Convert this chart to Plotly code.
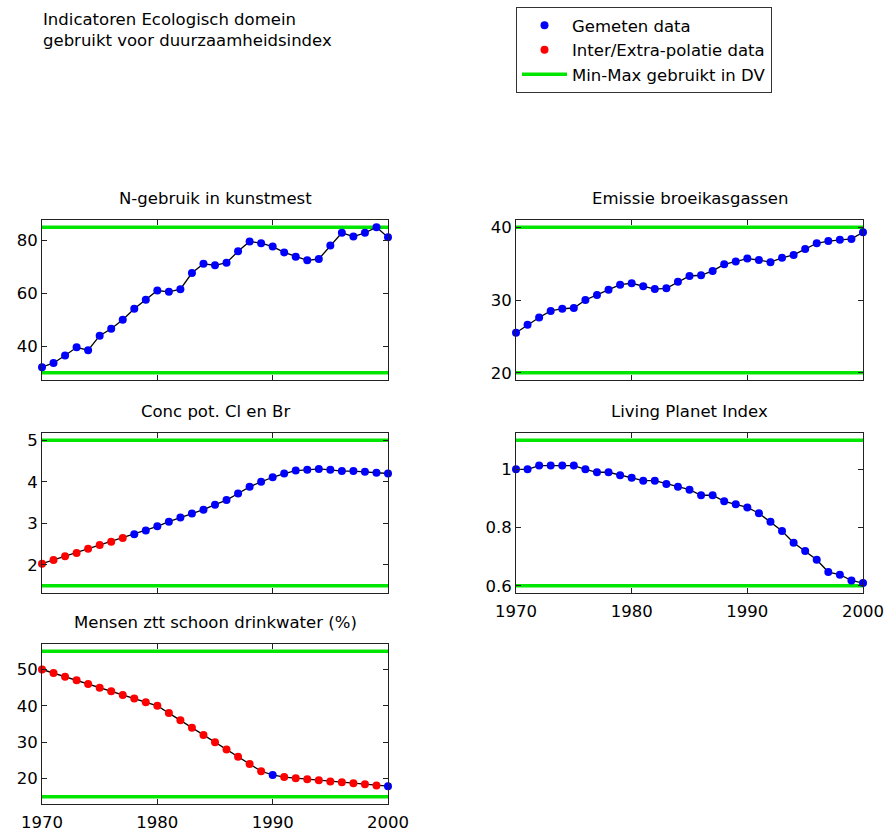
import plotly.graph_objects as go

# Jaren 1970-2000
years = list(range(1970, 2001))

# N-gebruik in kunstmest
n_gebruik = [32.1, 33.7, 36.5, 39.6, 38.5, 44.0, 46.6, 50.0, 54.2, 57.6,
             61.1, 60.6, 61.6, 67.7, 71.2, 70.6, 71.6, 75.9, 79.6, 79.0,
             77.7, 75.5, 73.9, 72.5, 73.0, 78.1, 82.9, 81.5, 82.9, 85.0, 81.2]
n_gebruik_measured = years
n_gebruik_minmax = [30, 85]

# Emissie broeikasgassen
emissie = [25.5, 26.6, 27.6, 28.5, 28.8, 28.9, 30.0, 30.7, 31.4, 32.1,
           32.3, 31.9, 31.5, 31.6, 32.5, 33.3, 33.4, 34.0, 34.9, 35.3,
           35.7, 35.5, 35.2, 35.8, 36.2, 37.0, 37.8, 38.1, 38.3, 38.4, 39.3]
emissie_measured = years
emissie_minmax = [20, 40]

# Conc pot. Cl en Br
conc = [2.03, 2.12, 2.21, 2.29, 2.39, 2.48, 2.56, 2.65, 2.74, 2.83,
        2.93, 3.04, 3.14, 3.24, 3.33, 3.45, 3.56, 3.72, 3.88, 4.00,
        4.11, 4.20, 4.27, 4.29, 4.31, 4.29, 4.26, 4.26, 4.24, 4.22, 4.20]
conc_measured = list(range(1978, 2001))
conc_minmax = [1.5, 5]

# Living Planet Index
lpi = [1.000, 1.000, 1.013, 1.013, 1.013, 1.013, 1.000, 0.990, 0.990, 0.980,
       0.971, 0.961, 0.961, 0.950, 0.940, 0.930, 0.911, 0.911, 0.890, 0.880,
       0.869, 0.849, 0.820, 0.788, 0.748, 0.719, 0.689, 0.647, 0.638, 0.618, 0.609]
lpi_measured = years
lpi_minmax = [0.6, 1.1]

# Mensen zonder toegang tot schoon drinkwater (%)
drinkwater = [50.0, 49.0, 48.0, 47.0, 46.0, 45.0, 44.0, 43.0, 42.0, 41.0,
              40.0, 38.0, 36.0, 34.0, 32.0, 30.0, 28.0, 26.0, 24.0, 22.0,
              21.0, 20.4, 20.1, 19.8, 19.5, 19.2, 19.0, 18.7, 18.4, 18.1, 17.9]
drinkwater_measured = [1990, 2000]
drinkwater_minmax = [15, 55]

xticks = [1970, 1980, 1990, 2000]
xticklabels = ["1970", "1980", "1990", "2000"]

panels = [
    dict(title="N-gebruik in kunstmest", y=n_gebruik, measured=n_gebruik_measured,
         minmax=n_gebruik_minmax, ticks=[40, 60, 80], labels=["40", "60", "80"]),
    dict(title="Emissie broeikasgassen", y=emissie, measured=emissie_measured,
         minmax=emissie_minmax, ticks=[20, 30, 40], labels=["20", "30", "40"]),
    dict(title="Conc pot. Cl en Br", y=conc, measured=conc_measured,
         minmax=conc_minmax, ticks=[2, 3, 4, 5], labels=["2", "3", "4", "5"]),
    dict(title="Living Planet Index", y=lpi, measured=lpi_measured,
         minmax=lpi_minmax, ticks=[0.6, 0.8, 1.0], labels=["0.6", "0.8", "1"]),
    dict(title="Mensen ztt schoon drinkwater (%)", y=drinkwater, measured=drinkwater_measured,
         minmax=drinkwater_minmax, ticks=[20, 30, 40, 50], labels=["20", "30", "40", "50"]),
]

W, H = 886, 834
FONT = "DejaVu Sans, Liberation Sans, Arial, sans-serif"
FS = 16.5

# panel frames in pixels: (left, right), (top, bottom)
left_col = (42, 388)
right_col = (516, 863)
rows = [(220, 380), (433, 593), (644, 804)]
frames = [
    (left_col, rows[0]), (right_col, rows[0]),
    (left_col, rows[1]), (right_col, rows[1]),
    (left_col, rows[2]),
]
show_xlabels = [False, False, False, True, True]

BLUE = "#0000ff"
RED = "#ff0000"
GREEN = "#00e600"
AXIS = "#222222"

fig = go.Figure()
layout = dict(
    template="none",
    width=W, height=H, margin=dict(l=0, r=0, t=0, b=0, pad=0),
    paper_bgcolor="white", plot_bgcolor="white",
    font=dict(family=FONT, size=FS, color="black"),
    showlegend=True, hovermode=False,
)
annotations = []

legend_done = {"measured": False, "interp": False, "minmax": False}

for i, (p, ((x0, x1), (y0, y1)), showx) in enumerate(zip(panels, frames, show_xlabels)):
    k = "" if i == 0 else str(i + 1)
    xa, ya = "x" + k, "y" + k
    lo, hi = p["minmax"]
    pad = 0.05 * (hi - lo)

    layout["xaxis" + k] = dict(
        domain=[x0 / W, x1 / W], anchor=ya, range=[1970, 2000],
        tickvals=xticks, ticktext=xticklabels, showticklabels=showx,
        ticks="inside", ticklen=5, tickcolor=AXIS, mirror="ticks",
        showline=True, linecolor=AXIS, linewidth=1, automargin=False,
        showgrid=False, zeroline=False, tickfont=dict(size=FS),
        ticklabelstandoff=3,
    )
    layout["yaxis" + k] = dict(
        domain=[1 - y1 / H, 1 - y0 / H], anchor=xa, range=[lo - pad, hi + pad],
        tickvals=p["ticks"], ticktext=p["labels"],
        ticks="inside", ticklen=5, tickcolor=AXIS, mirror="ticks",
        showline=True, linecolor=AXIS, linewidth=1, automargin=False,
        showgrid=False, zeroline=False, tickfont=dict(size=FS),
    )

    # Min-Max lines
    for j, level in enumerate((lo, hi)):
        show = (not legend_done["minmax"]) and j == 0
        fig.add_trace(go.Scatter(
            x=[1970, 2000], y=[level, level], mode="lines",
            line=dict(color=GREEN, width=3.5), xaxis=xa, yaxis=ya,
            name="Min-Max gebruikt in DV", showlegend=show, legendrank=3,
            cliponaxis=False,
        ))
        if show:
            legend_done["minmax"] = True

    # connecting line
    fig.add_trace(go.Scatter(
        x=years, y=p["y"], mode="lines", line=dict(color="black", width=1.3),
        xaxis=xa, yaxis=ya, showlegend=False,
    ))

    meas = set(p["measured"])
    mx = [yr for yr in years if yr in meas]
    my = [v for yr, v in zip(years, p["y"]) if yr in meas]
    ix = [yr for yr in years if yr not in meas]
    iy = [v for yr, v in zip(years, p["y"]) if yr not in meas]

    if ix:
        show = not legend_done["interp"]
        fig.add_trace(go.Scatter(
            x=ix, y=iy, mode="markers", marker=dict(color=RED, size=8, line=dict(width=0)),
            xaxis=xa, yaxis=ya, name="Inter/Extra-polatie data",
            showlegend=show, legendrank=2, cliponaxis=False,
        ))
        legend_done["interp"] = True
    if mx:
        show = not legend_done["measured"]
        fig.add_trace(go.Scatter(
            x=mx, y=my, mode="markers", marker=dict(color=BLUE, size=8, line=dict(width=0)),
            xaxis=xa, yaxis=ya, name="Gemeten data",
            showlegend=show, legendrank=1, cliponaxis=False,
        ))
        legend_done["measured"] = True

    annotations.append(dict(
        text=p["title"], xref="paper", yref="paper",
        x=(x0 + x1) / 2 / W, y=1 - y0 / H, xanchor="center", yanchor="bottom",
        yshift=10, showarrow=False, font=dict(size=FS),
    ))

annotations.append(dict(
    text="Indicatoren Ecologisch domein<br>gebruikt voor duurzaamheidsindex",
    xref="paper", yref="paper", x=41 / W, y=1 - 8 / H,
    xanchor="left", yanchor="top", align="left", showarrow=False,
    font=dict(size=FS),
))

layout["annotations"] = annotations
layout["legend"] = dict(
    x=516 / W, y=1 - 7 / H, xanchor="left", yanchor="top",
    bordercolor="#333", borderwidth=1, bgcolor="white",
    font=dict(size=FS), itemwidth=45, tracegroupgap=0,
)

fig.update_layout(**layout)
fig.write_html("out.html")
